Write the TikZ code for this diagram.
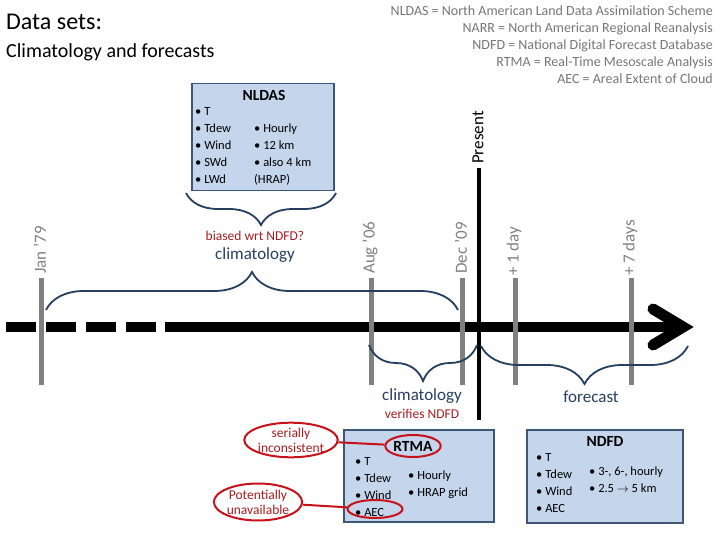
\documentclass[tikz,border=0pt]{standalone}
\usepackage{fontspec}
\setmainfont{Carlito}
\usetikzlibrary{shapes.geometric, arrows.meta, positioning, calc, decorations.pathreplacing}
\definecolor{cBox}{RGB}{197,213,236}
\definecolor{cEdge}{RGB}{62,86,120}
\definecolor{cNavy}{RGB}{38,62,96}
\definecolor{cRed}{RGB}{200,16,24}
\definecolor{cDkRed}{RGB}{168,28,32}
\definecolor{cTick}{RGB}{128,128,128}
\definecolor{cNote}{RGB}{118,118,118}
\tikzset{
	databox/.style  ={rectangle, draw=cEdge, line width=1.5pt, fill=cBox, anchor=north west, inner sep=0pt},
	boxtitle/.style ={font=\bfseries\fontsize{15.5}{18}\selectfont, inner sep=0pt},
	items/.style    ={align=left, anchor=north west, inner sep=0pt, font=\fontsize{12.5}{17}\selectfont},
	datelbl/.style  ={rotate=90, anchor=west, inner sep=0pt, font=\fontsize{17}{17}\selectfont},
	period/.style   ={text=cNavy, font=\fontsize{17}{17}\selectfont, inner sep=0pt},
	remark/.style   ={text=cDkRed, font=\fontsize{13.5}{15}\selectfont, inner sep=0pt},
	span/.style     ={decorate, decoration={brace, amplitude=#1}, draw=cNavy, line width=1.8pt},
	ring/.style     ={ellipse, draw=cRed, line width=2pt, inner sep=0pt},
	ringlink/.style ={draw=cRed, line width=2pt},
}

\begin{document}
\begin{tikzpicture}[x=1pt, y=-1pt]
	\useasboundingbox (0,0) rectangle (720,540);
	% titles and legend
	\node[anchor=west, inner sep=0pt, font=\fontsize{24}{26}\selectfont] (title) at (6,22) {Data sets:};
	\node[anchor=west, inner sep=0pt, font=\fontsize{20}{22}\selectfont] (subtitle) at (6,52) {Climatology and forecasts};
	\node[anchor=north east, align=right, inner sep=0pt, text=cNote, font=\fontsize{14}{17}\selectfont] (legend) at (713,6)
		{NLDAS = North American Land Data Assimilation Scheme\\
		 NARR = North American Regional Reanalysis\\
		 NDFD = National Digital Forecast Database\\
		 RTMA = Real-Time Mesoscale Analysis\\
		 AEC = Areal Extent of Cloud};

	% time axis
	\draw[line width=10pt, dash pattern=on 30pt off 10pt] (6,327) -- (160,327);
	\draw[line width=10pt] (165,327) -- (681,327);
	\draw[line width=11pt, line cap=round, line join=miter] (653,309) -- (683,327) -- (653,345);
	\foreach \x/\y/\lbl in {41/274/Jan ’79, 371/274/Aug ’06, 462/274/Dec ’09, 515/276/+ 1 day, 631/276/+ 7 days}{
		\draw[cTick, line width=5pt] (\x,278) -- (\x,385);
		\node[datelbl, text=cTick] at (\x-1,\y) {\lbl};
	}
	\draw[line width=4pt] (479,168) -- (479,420);
	\node[datelbl] (present) at (478,164) {Present};

	% NLDAS
	\node[databox, minimum width=142pt, minimum height=107pt] (nldas) at (191,83) {};
	\node[boxtitle] (nldastitle) at (264,95) {NLDAS};
	\node[items] (nldasvars) at (195,107) {• T\\• Tdew\\• Wind\\• SWd\\• LWd};
	\node[items] (nldasres) at (254,124) {• Hourly\\• 12 km\\• also 4 km\\(HRAP)};
	\draw[span=32, decoration={mirror}] (186,193) -- (336,193);
	\node[remark] (biased) at (255,236) {biased wrt NDFD?};
	\node[period, below=7pt of biased] (climold) {climatology};
	\draw[span=38] (46,310) -- (458,310);

	% lower braces
	\draw[span=36, decoration={mirror}] (369,345) -- (477,345);
	\draw[span=38, decoration={mirror}] (481,346) -- (688,346);
	\node[period] (climnew) at (422,396) {climatology};
	\node[remark, below=5pt of climnew] (verifies) {verifies NDFD};
	\node[period] (fcst) at (591,397) {forecast};

	% RTMA
	\node[databox, minimum width=150pt, minimum height=92pt] (rtma) at (343,429) {};
	\node[boxtitle, ring, minimum width=55pt, minimum height=22pt] (rtmatitle) at (413,446) {RTMA};
	\node[items] (rtmavars) at (355,457) {• T\\• Tdew\\• Wind\\• AEC};
	\node[items] (rtmares) at (408,471) {• Hourly\\• HRAP grid};
	\node[ring, minimum width=55pt, minimum height=18pt] (aecring) at (375,509) {};
	\node[ring, remark, align=center, minimum width=84pt, minimum height=34pt] (serial) at (291,440) {serially\\inconsistent};
	\node[ring, remark, align=center, minimum width=88pt, minimum height=37pt] (avail) at (258,502) {Potentially\\unavailable};
	\draw[ringlink] (serial) -- (rtmatitle);
	\draw[ringlink] (avail) -- (aecring);

	% NDFD
	\node[databox, minimum width=156pt, minimum height=93pt] (ndfd) at (526,429) {};
	\node[boxtitle] (ndfdtitle) at (605,441) {NDFD};
	\node[items] (ndfdvars) at (536,453) {• T\\• Tdew\\• Wind\\• AEC};
	\node[items] (ndfdres) at (589,467) {• 3-, 6-, hourly\\• 2.5 $\rightarrow$ 5 km};
\end{tikzpicture}
\end{document}
